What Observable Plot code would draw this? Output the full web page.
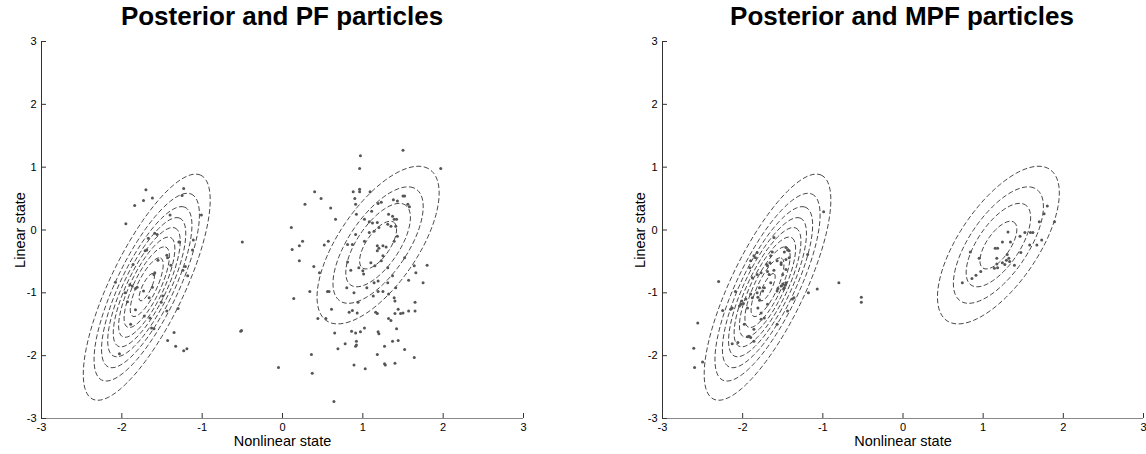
<!DOCTYPE html>
<html><head><meta charset="utf-8">
<script src="https://cdn.jsdelivr.net/npm/d3@7"></script>
<script src="https://cdn.jsdelivr.net/npm/@observablehq/plot@0.6"></script>
<style>
body{margin:0;background:#fff;}
#wrap{position:relative;width:1146px;height:454px;font-family:"Liberation Sans",Arial,sans-serif;overflow:hidden;background:#fff;}
.panel{position:absolute;top:0;}
.title{position:absolute;top:1px;width:560px;margin-left:-280px;text-align:center;font-weight:bold;font-size:26px;line-height:30px;color:#000;}
</style></head>
<body><div id="wrap"></div>
<script>
// ---------- data ----------
const titles = ["Posterior and PF particles", "Posterior and MPF particles"];
const xLabel = "Nonlinear state";
const yLabel = "Linear state";
const xTicks = [-3, -2, -1, 0, 1, 2, 3];
const yTicks = [-3, -2, -1, 0, 1, 2, 3];

// posterior: two modes (center, spread, correlation, relative peak height)
const modeCenters = [[-1.69, -0.91], [1.19, -0.24]];
const modeSpreads = [[0.374, 0.852], [0.435, 0.718]];
const modeCorrelations = [0.77, 0.66];
const modePeaks = [9.3, 4.6];
const contourLevels = [1, 2, 3, 4, 5, 6, 7, 8, 9];

// PF particles [nonlinear, linear]
const pfParticles = [
[-1.70,0.64],[-1.23,0.66],[-1.73,0.47],[-1.62,0.51],[-1.84,0.39],[-1.25,0.55],[-1.40,0.24],[-1.01,0.24],[-1.95,0.10],[-1.59,-0.05],
[-1.56,-0.07],[-1.28,-0.19],[-1.11,-0.16],[-1.69,-0.32],[-1.71,-0.33],[-1.12,-0.32],[-1.44,-0.40],[-1.55,-0.48],[-1.86,-0.55],[-1.21,-0.58],
[-1.39,-0.56],[-1.59,-0.68],[-1.60,-0.71],[-1.18,-0.73],[-1.24,-0.64],[-2.08,-0.83],[-1.90,-0.87],[-1.87,-0.89],[-1.81,-0.91],[-1.83,-0.93],
[-1.96,-1.00],[-1.62,-0.91],[-1.73,-0.97],[-1.66,-1.08],[-1.49,-1.05],[-1.93,-1.14],[-1.51,-1.15],[-1.83,-1.27],[-1.44,-1.29],[-1.30,-1.25],
[-1.72,-1.37],[-1.65,-1.40],[-1.89,-1.50],[-1.63,-1.56],[-1.60,-1.57],[-1.35,-1.63],[-1.43,-1.76],[-1.33,-1.85],[-1.23,-1.92],[-1.19,-1.89],
[-2.03,-1.97],[-1.43,-0.44],[-1.67,-0.13],[-1.29,-0.19],
[-0.50,-0.19],[-0.52,-1.61],[-0.51,-1.60],[-0.05,-2.19],
[1.50,1.27],[0.97,1.18],[0.96,0.98],[1.97,0.98],[0.40,0.61],[0.88,0.61],[0.96,0.65],[0.96,0.61],[1.09,0.61],[0.48,0.50],
[0.90,0.50],[0.28,0.41],[0.91,0.41],[0.60,0.35],[1.19,0.42],[1.23,0.44],[1.38,0.48],[1.43,0.46],[1.50,0.54],[1.52,0.54],
[1.56,0.41],[1.58,0.37],[0.92,0.25],[1.11,0.30],[1.32,0.25],[1.37,0.22],[1.39,0.17],[1.42,0.17],[0.66,0.17],[0.11,0.04],
[1.02,0.17],[1.08,0.13],[1.12,0.11],[1.18,0.12],[1.31,0.09],[1.35,0.06],[1.41,0.06],[1.20,0.04],[0.25,-0.18],[0.21,-0.25],
[0.12,-0.31],[0.57,-0.18],[0.52,-0.24],[0.81,-0.23],[0.87,-0.23],[0.91,-0.07],[1.02,-0.18],[1.18,-0.25],[1.20,-0.29],[1.25,-0.25],
[1.29,-0.27],[1.18,-0.33],[1.25,-0.41],[1.23,-0.49],[1.10,-0.52],[1.08,-0.04],[1.14,-0.02],[1.39,-0.18],[1.43,-0.10],[1.52,-0.44],
[1.64,-0.57],[1.66,-0.68],[1.80,-0.56],[0.21,-0.49],[0.39,-0.58],[0.46,-0.68],[0.81,-0.51],[0.85,-0.64],[0.95,-0.60],[1.00,-0.65],
[1.01,-0.70],[1.15,-0.57],[1.31,-0.60],[1.37,-0.73],[0.14,-1.09],[0.34,-0.98],[0.56,-0.98],[0.58,-0.98],[0.80,-0.92],[0.89,-1.00],
[0.94,-1.15],[1.05,-0.92],[1.14,-0.84],[1.19,-0.81],[1.13,-1.05],[1.19,-0.98],[1.25,-0.98],[1.31,-0.84],[1.41,-0.92],[1.32,-1.02],
[1.39,-1.08],[1.40,-1.13],[1.57,-0.80],[1.75,-0.84],[1.65,-1.15],[0.44,-1.41],[0.54,-1.41],[0.61,-1.26],[0.83,-1.31],[0.87,-1.28],
[0.93,-1.32],[1.16,-1.31],[1.18,-1.33],[1.32,-1.41],[1.35,-1.44],[1.40,-1.33],[1.44,-1.26],[1.47,-1.33],[1.50,-1.32],[1.57,-1.29],
[1.65,-1.29],[0.65,-1.64],[0.86,-1.61],[0.91,-1.64],[0.97,-1.62],[0.92,-1.77],[0.92,-1.83],[0.91,-1.85],[0.78,-1.81],[0.69,-1.89],
[1.02,-1.56],[1.19,-1.62],[1.20,-1.65],[1.42,-1.57],[1.37,-1.77],[1.44,-1.76],[1.27,-1.85],[1.52,-1.90],[1.64,-2.03],[0.36,-1.98],
[0.37,-2.28],[0.89,-2.15],[1.03,-2.21],[1.18,-1.98],[1.27,-2.13],[1.28,-2.15],[1.40,-2.12],[0.64,-2.73]
];

// MPF particles [nonlinear, linear]
const mpfParticles = [
[-0.99,0.29],[-1.46,-0.28],[-1.44,-0.32],[-1.48,-0.35],[-1.63,-0.35],[-1.65,-0.41],[-1.82,-0.36],[-1.86,-0.41],[-1.84,-0.44],[-1.57,-0.49],
[-1.66,-0.52],[-1.69,-0.57],[-1.52,-0.52],[-1.46,-0.47],[-1.42,-0.44],[-1.90,-0.49],[-1.91,-0.60],[-1.77,-0.68],[-1.82,-0.71],[-1.69,-0.66],
[-1.67,-0.71],[-1.61,-0.64],[-1.50,-0.71],[-1.46,-0.63],[-1.65,-0.84],[-1.50,-0.86],[-1.52,-0.89],[-1.48,-0.92],[-1.46,-0.84],[-1.47,-0.88],
[-1.49,-0.94],[-1.56,-0.93],[-1.57,-0.97],[-1.73,-0.92],[-1.75,-0.97],[-1.82,-1.00],[-1.81,-1.07],[-1.79,-1.12],[-1.90,-1.02],[-1.88,-1.08],
[-2.01,-1.13],[-1.99,-1.17],[-2.02,-1.18],[-2.04,-1.21],[-1.96,-1.10],[-2.09,-0.98],[-2.30,-0.82],[-2.13,-1.24],[-2.15,-1.26],[-2.25,-1.28],
[-1.69,-1.18],[-1.36,-1.08],[-1.38,-1.10],[-1.18,-1.00],[-1.07,-0.94],[-0.80,-0.84],[-0.52,-1.07],[-0.52,-1.15],[-1.19,-0.39],[-1.44,-1.29],
[-1.57,-1.50],[-1.77,-1.42],[-1.73,-1.40],[-1.98,-1.50],[-1.86,-1.58],[-1.92,-1.69],[-1.90,-1.71],[-1.94,-1.70],[-2.13,-1.81],[-2.56,-1.48],
[-2.61,-1.88],[-2.60,-2.19],[-2.50,-2.10],[-1.79,-0.92],[-1.94,-1.24],[-1.81,-1.24],[-1.77,-1.32],[-1.61,-0.12],[-1.70,-0.55],[-1.52,-0.55],
[-1.88,-0.76],[-1.86,-1.77],[-2.06,-1.79],[-1.42,-0.33],
[1.80,0.38],[1.89,0.13],[1.76,0.26],[1.70,0.13],[1.62,-0.04],[1.59,-0.04],[1.52,-0.04],[1.73,-0.16],[1.67,-0.24],[1.58,-0.24],
[1.46,-0.10],[1.31,-0.03],[1.34,-0.19],[1.24,-0.19],[1.15,-0.29],[1.18,-0.29],[0.84,-0.35],[0.95,-0.45],[1.30,-0.39],[1.32,-0.45],
[1.29,-0.48],[1.33,-0.50],[1.24,-0.52],[1.27,-0.55],[1.17,-0.45],[1.17,-0.54],[1.14,-0.61],[1.18,-0.60],[0.97,-0.66],[0.91,-0.72],
[0.86,-0.77],[0.74,-0.84],[1.47,-0.36],[1.39,-0.56]
];

// ---------- drawing ----------
function posterior(x, y) {
  let s = 0;
  for (let i = 0; i < modeCenters.length; i++) {
    const [mx, my] = modeCenters[i], [sx, sy] = modeSpreads[i], r = modeCorrelations[i];
    const dx = (x - mx) / sx, dy = (y - my) / sy;
    const q = (dx * dx - 2 * r * dx * dy + dy * dy) / (1 - r * r);
    s += modePeaks[i] * Math.exp(-q / 2);
  }
  return s;
}

const wrap = document.getElementById("wrap");
const panelDefs = [
  {left: 0, marginLeft: 41, marginRight: 50, labelDx: -21, particles: pfParticles, titleX: 282},
  {left: 573, marginLeft: 89, marginRight: 3, labelDx: -22, particles: mpfParticles, titleX: 902}
];

panelDefs.forEach((p, k) => {
  const chart = Plot.plot({
    width: 573, height: 454,
    marginTop: 41, marginBottom: 36, marginLeft: p.marginLeft, marginRight: p.marginRight,
    style: {fontFamily: "Liberation Sans, Arial, sans-serif", fontSize: "11px", background: "transparent", overflow: "visible", color: "#000"},
    x: {domain: [-3, 3]},
    y: {domain: [-3, 3]},
    marks: [
      Plot.contour({value: posterior, x1: -3, x2: 3, y1: -3, y2: 3, pixelSize: 1,
        thresholds: contourLevels, fill: "none", stroke: "#1a1a1a", strokeWidth: 0.8, strokeDasharray: "5,2.5"}),
      Plot.dot(p.particles, {x: d => d[0], y: d => d[1], r: 1.5, fill: "#555", stroke: "none"}),
      Plot.ruleY([-3], {stroke: "#888", strokeWidth: 1.2}),
      Plot.ruleX([-3], {stroke: "#333", strokeWidth: 1}),
      Plot.ruleX(xTicks, {x: d => d, y1: -3, y2: -3, insetTop: -5, stroke: "#333"}),
      Plot.ruleY(yTicks, {y: d => d, x1: -3, x2: -3, insetRight: -5, stroke: "#333"}),
      Plot.axisX({ticks: xTicks, tickSize: 0, tickPadding: 5, tickFormat: d => String(d), label: null}),
      Plot.axisY({ticks: yTicks, tickSize: 0, tickPadding: 5, tickFormat: d => String(d), label: null}),
      Plot.text([xLabel], {frameAnchor: "bottom", dy: 23, text: d => d, fontSize: 14.5, fill: "#000", lineAnchor: "middle", textAnchor: "middle"}),
      Plot.text([yLabel], {frameAnchor: "left", dx: p.labelDx, rotate: -90, text: d => d, fontSize: 14.5, fill: "#000", lineAnchor: "middle", textAnchor: "middle"})
    ]
  });
  chart.classList.add("panel");
  chart.style.left = p.left + "px";
  wrap.appendChild(chart);
  const t = document.createElement("div");
  t.className = "title";
  t.style.left = p.titleX + "px";
  t.textContent = titles[k];
  wrap.appendChild(t);
});
</script></body></html>
